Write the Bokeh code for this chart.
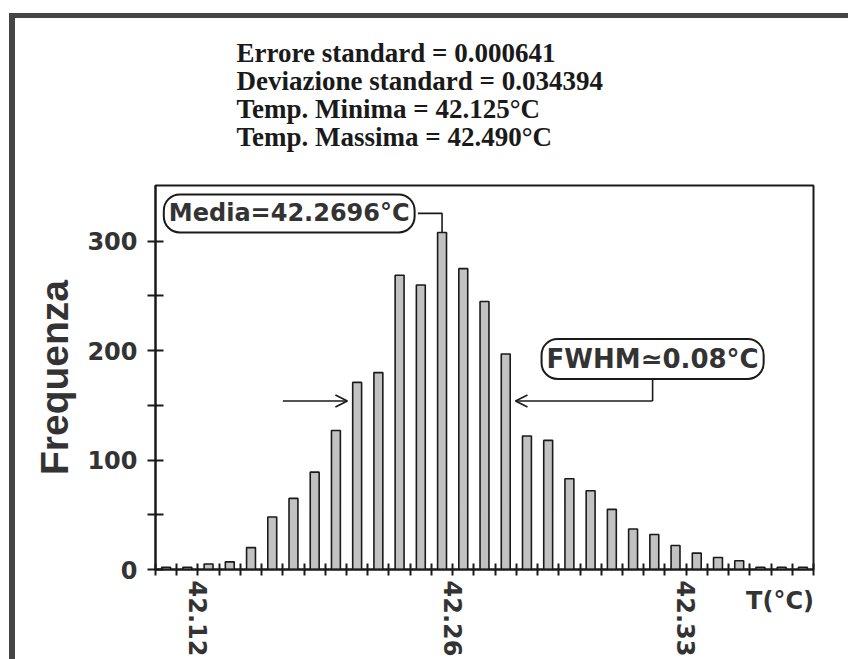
from bokeh.plotting import figure
from bokeh.models import (FixedTicker, Label, Arrow, OpenHead, Range1d, Title,
                          InlineStyleSheet)
from bokeh.embed import file_html
from bokeh.resources import INLINE

# ---- data ----
counts = [2, 2, 5, 7, 20, 48, 65, 89, 127, 171, 180, 269, 260, 308, 275, 245,
          197, 122, 118, 83, 72, 55, 37, 32, 22, 15, 11, 8, 2, 2, 2]
bins = list(range(len(counts)))
x_tick_labels = {2: "42.12", 14: "42.26", 25: "42.33"}
y_tick_values = [0, 50, 100, 150, 200, 250, 300]
y_tick_labels = {0: "0", 100: "100", 200: "200", 300: "300"}
stats_lines = ["Errore standard = 0.000641",
               "Deviazione standard = 0.034394",
               "Temp. Minima = 42.125\u00b0C",
               "Temp. Massima = 42.490\u00b0C"]
media_text = "Media=42.2696\u00b0C"
fwhm_text = "FWHM\u22430.08\u00b0C"
fwhm_left_bin = 9
fwhm_right_bin = 16
x_title = "T(\u00b0C)"
y_title = "Frequenza"

SANS = "Liberation Sans"
WIDE = "DejaVu Sans"
SERIF = "Liberation Serif"
INK = "#1a1a1a"
GREY_TXT = "#333333"
nb = len(counts)
bar_w = 0.42

border_css = InlineStyleSheet(css="""
:host::after {
  content: ""; position: absolute; left: 9px; top: 13px; right: -20px; bottom: -20px;
  border-left: 6px solid #454545; border-top: 5px solid #454545;
  pointer-events: none; z-index: 10;
}
""")

p = figure(width=848, height=659, output_backend="svg", toolbar_location=None,
           x_range=Range1d(0, nb), y_range=Range1d(0, 351),
           min_border_left=155, min_border_right=35, min_border_top=185,
           min_border_bottom=90)
p.stylesheets = [border_css]
p.grid.visible = False
p.outline_line_color = INK
p.outline_line_width = 2
p.background_fill_color = "white"
p.border_fill_color = "white"

p.vbar(x=[b + 0.5 for b in bins], top=counts, bottom=0, width=bar_w,
       fill_color="#c2c2c2", line_color=INK, line_width=1.6)

# x axis
xa = p.xaxis[0]
xa.ticker = FixedTicker(ticks=list(range(0, nb + 1)))
xa.major_label_overrides = {t: x_tick_labels.get(t, "") for t in range(0, nb + 1)}
xa.major_label_orientation = "vertical"
xa.major_tick_in = 6
xa.major_tick_out = 6
xa.minor_tick_line_color = None
xa.axis_line_width = 2
xa.axis_line_color = INK
xa.major_tick_line_width = 2
xa.major_tick_line_color = INK
xa.major_label_text_font = WIDE
xa.major_label_text_font_size = "24px"
xa.major_label_text_font_style = "bold"
xa.major_label_text_color = GREY_TXT
xa.major_label_standoff = 5
# axis title drawn at the right end, beside the rotated tick labels
# (trailing no-break spaces move the centred title left of the frame's end)
xa.axis_label = x_title + "\u00a0" * 8
xa.axis_label_text_font = WIDE
xa.axis_label_text_font_size = "24px"
xa.axis_label_text_font_style = "bold"
xa.axis_label_text_color = GREY_TXT
xa.axis_label_standoff = -72
xa.axis_label_align = "end"

# y axis
ya = p.yaxis[0]
ya.ticker = FixedTicker(ticks=y_tick_values)
ya.major_label_overrides = {t: y_tick_labels.get(t, "") for t in y_tick_values}
ya.major_tick_in = 8
ya.major_tick_out = 8
ya.minor_tick_line_color = None
ya.axis_line_width = 2
ya.axis_line_color = INK
ya.major_tick_line_width = 2
ya.major_tick_line_color = INK
ya.major_label_text_font = WIDE
ya.major_label_text_font_size = "24px"
ya.major_label_text_font_style = "bold"
ya.major_label_text_color = GREY_TXT
ya.major_label_standoff = 10
ya.axis_label = y_title
ya.axis_label_text_font = SANS
ya.axis_label_text_font_size = "39px"
ya.axis_label_text_font_style = "bold"
ya.axis_label_text_color = GREY_TXT
ya.axis_label_standoff = 8

# statistics text above the plot, one multi-line title
p.add_layout(Title(text="\n".join(stats_lines), align="left", offset=81,
                   text_font=SERIF, text_font_size="27px",
                   text_font_style="bold", text_color=INK,
                   text_line_height=0.94, standoff=66), "above")

# Media annotation
peak = counts.index(max(counts))
x_peak = peak + 0.5
media_y = 325.5
p.add_layout(Label(x=6.3, y=media_y, text=media_text, text_align="center",
                   text_baseline="middle", text_font=WIDE,
                   text_font_size="24px", text_font_style="bold",
                   text_color=GREY_TXT, border_line_color=INK,
                   border_line_width=2, background_fill_color="white",
                   padding=5, border_radius=16))
p.line(x=[12.36, x_peak, x_peak], y=[media_y, media_y, counts[peak]],
       line_color=INK, line_width=1.6)

# FWHM annotation
half = max(counts) / 2
fwhm_x = 23.42
fwhm_y = 192.5
p.add_layout(Label(x=fwhm_x, y=fwhm_y, text=fwhm_text, text_align="center",
                   text_baseline="middle", text_font=WIDE,
                   text_font_size="26px", text_font_style="bold",
                   text_color=GREY_TXT, border_line_color=INK,
                   border_line_width=2, background_fill_color="white",
                   padding=5, border_radius=16))
p.line(x=[fwhm_x, fwhm_x], y=[174, half], line_color=INK, line_width=1.6)
left_tip = fwhm_left_bin + 0.5 - bar_w / 2 - 0.25
right_tip = fwhm_right_bin + 0.5 + bar_w / 2 + 0.25
p.add_layout(Arrow(end=OpenHead(size=12, line_width=1.6, line_color=INK),
                   x_start=6.0, y_start=half, x_end=left_tip, y_end=half,
                   line_color=INK, line_width=1.6))
p.add_layout(Arrow(end=OpenHead(size=12, line_width=1.6, line_color=INK),
                   x_start=fwhm_x, y_start=half, x_end=right_tip, y_end=half,
                   line_color=INK, line_width=1.6))

open("out.html", "w").write(file_html(p, INLINE))
